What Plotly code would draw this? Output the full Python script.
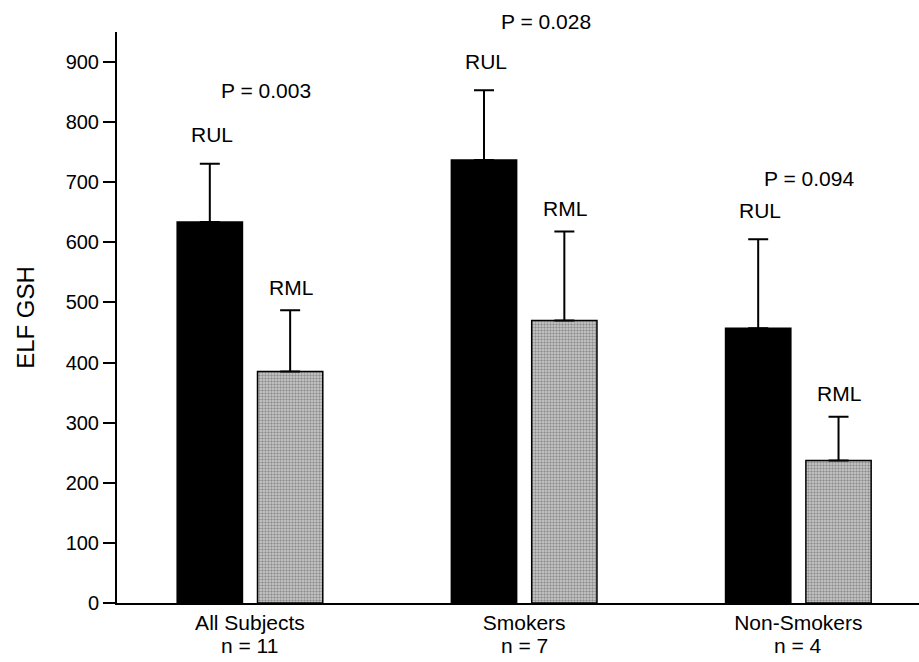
import plotly.graph_objects as go

categories = ["All Subjects", "Smokers", "Non-Smokers"]
n_labels = ["n = 11", "n = 7", "n = 4"]
rul_values = [634, 737, 457]
rul_errors = [97, 116, 148]
rml_values = [385, 470, 237]
rml_errors = [102, 148, 73]
p_labels = ["P = 0.003", "P = 0.028", "P = 0.094"]
p_x = [0.06, 1.08, 2.04]
p_y = [852, 967, 707]
y_ticks = [0, 100, 200, 300, 400, 500, 600, 700, 800, 900]
Y_MAX = 950

FONT = "Liberation Sans, Arial, sans-serif"

fig = go.Figure()
fig.add_trace(go.Bar(
    x=categories, y=rul_values, name="RUL",
    marker=dict(color="black", line=dict(color="black", width=1.5)),
    error_y=dict(type="data", array=rul_errors, arrayminus=[0]*3, symmetric=False,
                 color="black", thickness=2, width=10),
))
fig.add_trace(go.Bar(
    x=categories, y=rml_values, name="RML",
    marker=dict(color="#b8b8b8", line=dict(color="black", width=1.5),
                pattern=dict(shape=".", fgcolor="#505050", bgcolor="#cfcfcf",
                             size=3, solidity=0.5)),
    error_y=dict(type="data", array=rml_errors, arrayminus=[0]*3, symmetric=False,
                 color="black", thickness=2, width=10),
))

annotations = []
for i in range(3):
    annotations.append(dict(x=i, y=rul_values[i] + rul_errors[i], xref="x", yref="y",
                            text="RUL", showarrow=False, xshift=-38, yshift=29,
                            font=dict(size=21, color="black", family=FONT)))
    annotations.append(dict(x=i, y=rml_values[i] + rml_errors[i], xref="x", yref="y",
                            text="RML", showarrow=False, xshift=41, yshift=23,
                            font=dict(size=21, color="black", family=FONT)))
    annotations.append(dict(x=p_x[i], y=p_y[i] / Y_MAX, xref="x", yref="paper",
                            yanchor="middle", xanchor="center",
                            text=p_labels[i], showarrow=False,
                            font=dict(size=21, color="black", family=FONT)))
    annotations.append(dict(x=i, y=0, xref="x", yref="paper",
                            yanchor="middle", xanchor="center", yshift=-42,
                            text=n_labels[i], showarrow=False,
                            font=dict(size=21, color="black", family=FONT)))

fig.update_layout(
    width=919, height=662,
    margin=dict(l=117, r=0, t=32, b=59),
    paper_bgcolor="white", plot_bgcolor="white",
    showlegend=False,
    barmode="group", bargap=0.414, bargroupgap=0.1875,
    font=dict(family=FONT, color="black"),
    annotations=annotations,
    xaxis=dict(range=[-0.485, 2.44], showline=True, linecolor="black", linewidth=2,
               ticks="", showgrid=False, zeroline=False, automargin=False,
               tickfont=dict(size=21, color="black", family=FONT)),
    yaxis=dict(range=[0, Y_MAX], tickvals=y_ticks, showline=True, linecolor="black",
               linewidth=2, ticks="outside", ticklen=12, tickwidth=2, tickcolor="black",
               showgrid=False, zeroline=False, automargin=False,
               tickfont=dict(size=20, color="black", family=FONT),
               title=dict(text="ELF GSH", font=dict(size=24, color="black", family=FONT),
                          standoff=24)),
)

fig.write_html("out.html", config={"displayModeBar": False},
               post_script="document.body.style.margin='0';document.body.style.overflow='hidden';")
